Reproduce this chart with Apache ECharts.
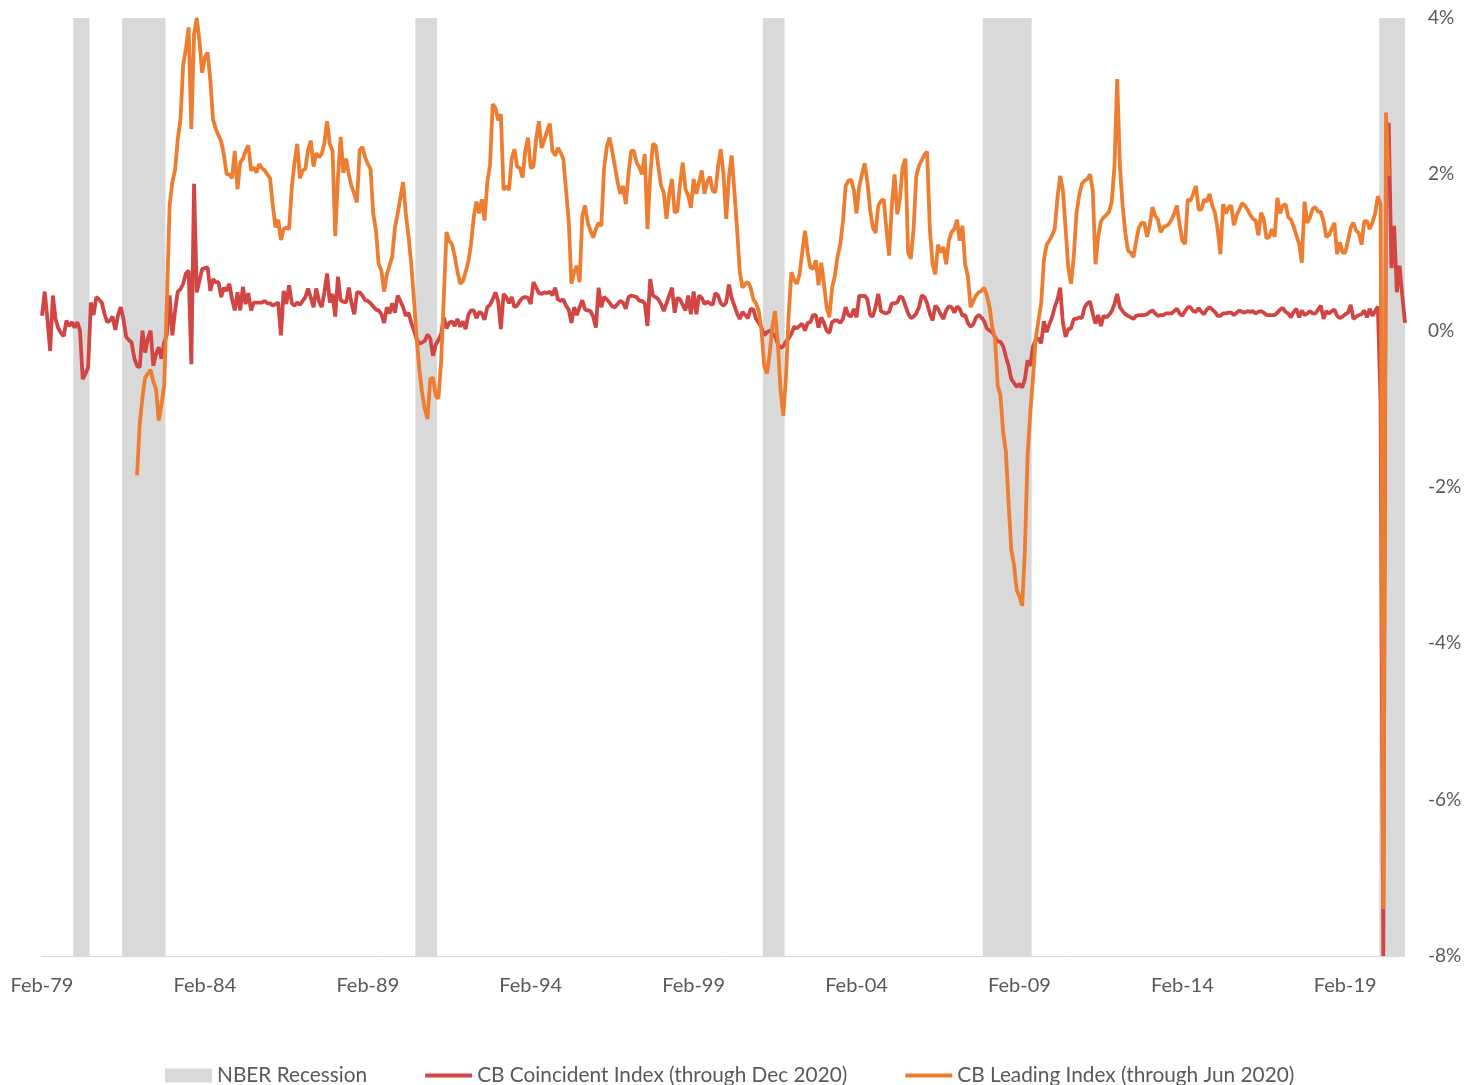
<!DOCTYPE html>
<html>
<head>
<meta charset="utf-8">
<title>Conference Board Coincident and Leading Indexes</title>
<script src="https://cdn.jsdelivr.net/npm/echarts@6/dist/echarts.min.js"></script>
<style>
  html, body { margin: 0; padding: 0; background: #ffffff; }
  #chart { width: 1472px; height: 1085px; }
</style>
</head>
<body>
<div id="chart"></div>
<script>
// Monthly categories start at Feb 1979
const startYear = 1979;
const startMonth = 1; // 0 = Jan
const monthNames = ['Jan','Feb','Mar','Apr','May','Jun','Jul','Aug','Sep','Oct','Nov','Dec'];

// NBER recession periods (first and last month shaded)
const recessions = [
  ['Feb-80', 'Jul-80'],
  ['Aug-81', 'Nov-82'],
  ['Aug-90', 'Mar-91'],
  ['Apr-01', 'Nov-01'],
  ['Jan-08', 'Jun-09'],
  ['Mar-20', 'Dec-20']
];

// CB Coincident Index, monthly % change, Feb 1979 - Dec 2020
const coincident = [
  0.19, 0.5, 0.15, -0.26, 0.45, 0.15, 0.03, -0.03, -0.07, 0.13,
  0.06, 0.11, 0.04, 0.11, 0.0, -0.62, -0.55, -0.47, 0.36, 0.2,
  0.43, 0.4, 0.36, 0.22, 0.11, 0.13, 0.18, 0.01, 0.2, 0.3,
  0.15, -0.08, -0.12, -0.15, -0.35, -0.45, -0.47, 0.0, -0.28, -0.1,
  0.0, -0.45, -0.3, -0.21, -0.36, -0.15, -0.05, 0.45, -0.06, 0.25,
  0.5, 0.53, 0.6, 0.73, 0.77, -0.43, 1.88, 0.49, 0.64, 0.79,
  0.8, 0.81, 0.51, 0.66, 0.62, 0.62, 0.43, 0.55, 0.51, 0.6,
  0.4, 0.26, 0.49, 0.26, 0.56, 0.34, 0.48, 0.26, 0.36, 0.36,
  0.36, 0.36, 0.38, 0.35, 0.35, 0.32, 0.34, 0.36, -0.06, 0.51,
  0.34, 0.58, 0.35, 0.32, 0.36, 0.33, 0.38, 0.43, 0.54, 0.42,
  0.3, 0.54, 0.38, 0.3, 0.49, 0.73, 0.36, 0.47, 0.18, 0.69,
  0.39, 0.37, 0.36, 0.55, 0.35, 0.21, 0.49, 0.49, 0.45, 0.39,
  0.38, 0.35, 0.31, 0.27, 0.26, 0.21, 0.1, 0.3, 0.22, 0.35,
  0.23, 0.45, 0.38, 0.3, 0.19, 0.23, 0.1, 0.0, -0.11, -0.17,
  -0.15, -0.13, -0.05, -0.1, -0.32, -0.18, -0.12, -0.04, 0.17, 0.03,
  0.1, 0.12, 0.06, 0.15, 0.05, 0.12, 0.02, 0.2, 0.26, 0.26,
  0.16, 0.24, 0.22, 0.14, 0.3, 0.33, 0.4, 0.49, 0.38, 0.02,
  0.47, 0.43, 0.35, 0.43, 0.3, 0.32, 0.38, 0.42, 0.43, 0.42,
  0.34, 0.62, 0.55, 0.48, 0.47, 0.49, 0.48, 0.5, 0.45, 0.55,
  0.4, 0.38, 0.4, 0.32, 0.27, 0.1, 0.3, 0.2, 0.3, 0.39,
  0.27, 0.26, 0.25, 0.18, 0.04, 0.55, 0.3, 0.43, 0.4, 0.36,
  0.31, 0.3, 0.34, 0.38, 0.36, 0.28, 0.43, 0.45, 0.44, 0.43,
  0.38, 0.38, 0.35, 0.06, 0.66, 0.45, 0.43, 0.4, 0.34, 0.25,
  0.35, 0.45, 0.55, 0.23, 0.42, 0.4, 0.33, 0.26, 0.45, 0.21,
  0.5, 0.21, 0.45, 0.42, 0.34, 0.37, 0.35, 0.33, 0.48, 0.45,
  0.35, 0.32, 0.36, 0.59, 0.42, 0.32, 0.22, 0.15, 0.24, 0.2,
  0.16, 0.28, 0.27, 0.15, 0.1, 0.04, -0.06, -0.02, 0.0, -0.03,
  -0.07, -0.17, -0.22, -0.2, -0.14, -0.1, -0.04, 0.05, 0.03, 0.06,
  0.09, 0.0, 0.1, 0.11, 0.2, 0.2, 0.04, 0.17, 0.1, 0.0,
  -0.03, 0.11, 0.13, 0.13, 0.1, 0.15, 0.3, 0.2, 0.18, 0.28,
  0.17, 0.45, 0.44, 0.45, 0.4, 0.2, 0.18, 0.3, 0.47, 0.25,
  0.23, 0.22, 0.24, 0.35, 0.35, 0.36, 0.44, 0.42, 0.32, 0.22,
  0.16, 0.18, 0.22, 0.3, 0.45, 0.43, 0.35, 0.22, 0.13, 0.32,
  0.28, 0.21, 0.15, 0.26, 0.31, 0.3, 0.23, 0.31, 0.28, 0.19,
  0.2, 0.1, 0.05, 0.08, 0.17, 0.2, 0.17, 0.12, 0.03, 0.0,
  -0.02, -0.08, -0.14, -0.14, -0.2, -0.33, -0.45, -0.62, -0.67, -0.72,
  -0.68, -0.73, -0.62, -0.38, -0.45, -0.2, -0.12, -0.1, -0.16, 0.12,
  -0.02, 0.08, 0.17, 0.3, 0.4, 0.55, 0.1, -0.08, 0.02, 0.03,
  0.15, 0.15, 0.17, 0.16, 0.3, 0.35, 0.37, 0.22, 0.09, 0.2,
  0.06, 0.19, 0.17, 0.2, 0.25, 0.34, 0.47, 0.3, 0.25, 0.21,
  0.19, 0.17, 0.15, 0.19, 0.2, 0.2, 0.2, 0.21, 0.24, 0.26,
  0.22, 0.19, 0.2, 0.2, 0.22, 0.22, 0.22, 0.25, 0.28, 0.22,
  0.19, 0.25, 0.3, 0.3, 0.25, 0.24, 0.29, 0.24, 0.21, 0.27,
  0.3, 0.27, 0.24, 0.19, 0.19, 0.22, 0.22, 0.23, 0.23, 0.2,
  0.23, 0.26, 0.24, 0.23, 0.25, 0.24, 0.25, 0.22, 0.24, 0.25,
  0.23, 0.2, 0.2, 0.2, 0.2, 0.23, 0.27, 0.29, 0.24, 0.22,
  0.17, 0.24, 0.28, 0.17, 0.26, 0.2, 0.22, 0.25, 0.22, 0.22,
  0.27, 0.32, 0.15, 0.25, 0.22, 0.25, 0.27, 0.19, 0.16, 0.18,
  0.21, 0.23, 0.33, 0.15, 0.18, 0.2, 0.21, 0.26, 0.17, 0.28,
  0.19, 0.25, 0.31, -0.9, -8.0, 1.9, 2.66, 0.8, 1.34, 0.49,
  0.83, 0.45, 0.1
];

// CB Leading Index, monthly % change, Jan 1982 - Jun 2020 (blank before/after)
const leading = [
  null, null, null, null, null, null, null, null, null, null,
  null, null, null, null, null, null, null, null, null, null,
  null, null, null, null, null, null, null, null, null, null,
  null, null, null, null, null, -1.85, -1.2, -0.85, -0.6, -0.55,
  -0.5, -0.65, -0.75, -1.15, -0.95, -0.7, 0.38, 1.6, 1.9, 2.05,
  2.45, 2.7, 3.4, 3.6, 3.88, 2.58, 3.79, 4.0, 3.7, 3.3,
  3.5, 3.56, 3.2, 2.7, 2.58, 2.5, 2.42, 2.25, 2.0, 2.0,
  1.95, 2.3, 1.81, 2.15, 2.2, 2.3, 2.37, 2.05, 2.09, 2.02,
  2.13, 2.08, 2.05, 2.0, 1.95, 1.6, 1.32, 1.42, 1.16, 1.3,
  1.32, 1.3, 1.83, 2.15, 2.39, 1.95, 2.05, 2.07, 2.31, 2.43,
  2.1, 2.27, 2.22, 2.26, 2.4, 2.68, 2.39, 2.3, 1.21, 1.96,
  2.48, 2.02, 2.2, 2.0, 1.85, 1.75, 1.64, 2.31, 2.35, 2.22,
  2.13, 2.07, 1.5, 1.28, 0.85, 0.77, 0.5, 0.72, 0.83, 0.95,
  1.32, 1.5, 1.7, 1.9, 1.5, 1.2, 0.85, 0.4, -0.1, -0.5,
  -0.8, -1.0, -1.13, -0.62, -0.6, -0.83, -0.87, -0.4, 0.45, 1.26,
  1.15, 1.11, 0.95, 0.76, 0.6, 0.63, 0.75, 0.88, 1.1, 1.45,
  1.65, 1.5, 1.68, 1.41, 1.9, 2.12, 2.9, 2.85, 2.69, 2.77,
  1.8, 1.85, 1.8, 2.2, 2.32, 2.1, 2.08, 1.96, 2.3, 2.47,
  2.08, 2.1, 2.45, 2.68, 2.34, 2.44, 2.55, 2.65, 2.3, 2.24,
  2.34, 2.28, 2.2, 1.8, 1.4, 0.6, 0.75, 0.83, 0.62, 1.47,
  1.6, 1.38, 1.28, 1.19, 1.3, 1.38, 1.34, 2.07, 2.35, 2.47,
  2.3, 2.1, 1.9, 1.75, 1.85, 1.62, 2.0, 2.3, 2.3, 2.15,
  2.09, 2.0, 2.26, 1.3, 1.98, 2.39, 2.37, 2.1, 1.85, 1.77,
  1.43, 1.75, 1.94, 1.51, 1.53, 1.88, 2.15, 1.81, 1.73, 1.57,
  1.94, 1.75, 1.9, 2.05, 1.75, 1.9, 1.97, 1.79, 1.77, 2.1,
  2.32, 2.0, 1.43, 1.96, 2.24, 1.79, 1.3, 0.75, 0.55, 0.6,
  0.62, 0.55, 0.4, 0.35, 0.25, 0.0, -0.45, -0.55, -0.3, 0.05,
  0.25, -0.15, -0.75, -1.09, -0.6, 0.2, 0.75, 0.65, 0.6, 0.72,
  1.0, 1.28, 1.0, 0.81, 0.79, 0.9, 0.58, 0.87, 0.6, 0.3,
  0.17, 0.55, 0.7, 0.95, 1.1, 1.4, 1.85, 1.92, 1.93, 1.8,
  1.5, 1.85, 2.0, 2.14, 1.9, 1.55, 1.32, 1.25, 1.6, 1.66,
  1.68, 1.3, 0.96, 1.6, 2.0, 1.49, 1.7, 2.1, 2.2, 1.0,
  0.92, 1.3, 1.98, 2.11, 2.18, 2.25, 2.29, 1.3, 0.85, 0.72,
  1.1, 1.0, 1.07, 0.85, 1.15, 1.26, 1.3, 1.42, 1.15, 1.34,
  0.85, 0.7, 0.3, 0.38, 0.45, 0.49, 0.51, 0.55, 0.45, 0.3,
  0.04, -0.1, -0.7, -0.83, -1.3, -1.55, -2.2, -2.8, -3.0, -3.32,
  -3.4, -3.52, -2.81, -1.6, -1.05, -0.6, -0.1, 0.13, 0.35, 0.9,
  1.1, 1.15, 1.22, 1.3, 1.7, 1.98, 1.8, 1.3, 0.8, 0.6,
  0.95, 1.5, 1.73, 1.88, 1.92, 1.94, 2.0, 1.8, 0.85, 1.2,
  1.4, 1.45, 1.48, 1.52, 1.65, 2.1, 3.22, 2.1, 1.6, 1.25,
  1.02, 1.0, 0.94, 1.15, 1.32, 1.38, 1.38, 1.2, 1.35, 1.58,
  1.47, 1.42, 1.26, 1.32, 1.34, 1.36, 1.42, 1.5, 1.6, 1.35,
  1.15, 1.11, 1.68, 1.66, 1.75, 1.85, 1.55, 1.55, 1.68, 1.65,
  1.75, 1.6, 1.51, 1.3, 0.98, 1.62, 1.5, 1.58, 1.6, 1.35,
  1.48, 1.55, 1.63, 1.6, 1.55, 1.48, 1.43, 1.41, 1.22, 1.51,
  1.43, 1.18, 1.2, 1.3, 1.2, 1.7, 1.5, 1.6, 1.62, 1.45,
  1.42, 1.33, 1.22, 1.11, 0.87, 1.65, 1.38, 1.45, 1.56, 1.58,
  1.52, 1.52, 1.4, 1.2, 1.22, 1.3, 1.38, 0.98, 1.13, 1.0,
  1.0, 1.15, 1.32, 1.38, 1.28, 1.25, 1.1, 1.4, 1.4, 1.3,
  1.38, 1.5, 1.72, 1.62, -7.4, 2.79, 1.98, null, null, null,
  null, null, null
];

// Right-hand axis range (percent)
const yMin = -8, yMax = 4, yStep = 2;

// Month labels such as "Feb-79"
const months = coincident.map((_, i) => {
  const m = (startMonth + i) % 12;
  const y = startYear + Math.floor((startMonth + i) / 12);
  return monthNames[m] + '-' + String(y % 100).padStart(2, '0');
});

// Shaded spans on a hidden index axis; each month's column is one index unit wide
const recessionAreas = recessions.map(([from, to]) => [
  { xAxis: months.indexOf(from) - 0.5 },
  { xAxis: months.indexOf(to) + 0.5 }
]);

const textColor = '#595959';
const fontFamily = 'Lato, "Open Sans", sans-serif';
const lineIcon = 'path://M0,0 L47,0 L47,3.8 L0,3.8 Z';

const chart = echarts.init(document.getElementById('chart'), null, { renderer: 'canvas' });
chart.setOption({
  animation: false,
  backgroundColor: '#ffffff',
  textStyle: { fontFamily: fontFamily, color: textColor },
  grid: { left: 42, right: 67, top: 18, bottom: 129, containLabel: false },
  legend: {
    left: 165,
    top: 1065,
    padding: 0,
    itemWidth: 47,
    itemHeight: 14,
    itemGap: 58,
    symbolKeepAspect: true,
    textStyle: { fontSize: 20.8, color: textColor, fontFamily: fontFamily },
    data: [
      { name: 'NBER Recession', icon: 'rect', itemStyle: { color: '#d9d9d9' } },
      { name: 'CB Coincident Index (through Dec 2020)', icon: lineIcon },
      { name: 'CB Leading Index (through Jun 2020)', icon: lineIcon }
    ]
  },
  xAxis: [
    {
      type: 'category',
      data: months,
      boundaryGap: false,
      axisLine: { show: true, onZero: false, lineStyle: { color: '#d9d9d9', width: 1 } },
      axisTick: { show: false },
      splitLine: { show: false },
      axisLabel: {
        interval: 59,
        color: textColor,
        fontSize: 20,
        margin: 20,
        fontFamily: fontFamily
      }
    },
    {
      type: 'value',
      min: 0,
      max: months.length - 1,
      show: false
    }
  ],
  yAxis: {
    type: 'value',
    position: 'right',
    min: yMin,
    max: yMax,
    interval: yStep,
    axisLine: { show: false },
    axisTick: { show: false },
    splitLine: { show: false },
    axisLabel: {
      formatter: '{value}%',
      color: textColor,
      fontSize: 19,
      margin: 23,
      fontFamily: fontFamily
    }
  },
  series: [
    {
      name: 'NBER Recession',
      type: 'line',
      xAxisIndex: 1,
      data: [],
      symbol: 'none',
      itemStyle: { color: '#d9d9d9' },
      lineStyle: { color: '#d9d9d9' },
      silent: true,
      z: 1,
      markArea: {
        silent: true,
        itemStyle: { color: '#d9d9d9', opacity: 1 },
        data: recessionAreas
      }
    },
    {
      name: 'CB Coincident Index (through Dec 2020)',
      type: 'line',
      data: coincident,
      symbol: 'none',
      showSymbol: false,
      clip: true,
      lineStyle: { color: '#d24545', width: 3.8 },
      itemStyle: { color: '#d24545' },
      z: 3
    },
    {
      name: 'CB Leading Index (through Jun 2020)',
      type: 'line',
      data: leading,
      symbol: 'none',
      showSymbol: false,
      clip: true,
      connectNulls: false,
      lineStyle: { color: '#ed7d31', width: 3.8 },
      itemStyle: { color: '#ed7d31' },
      z: 4
    }
  ]
});
</script>
</body>
</html>
